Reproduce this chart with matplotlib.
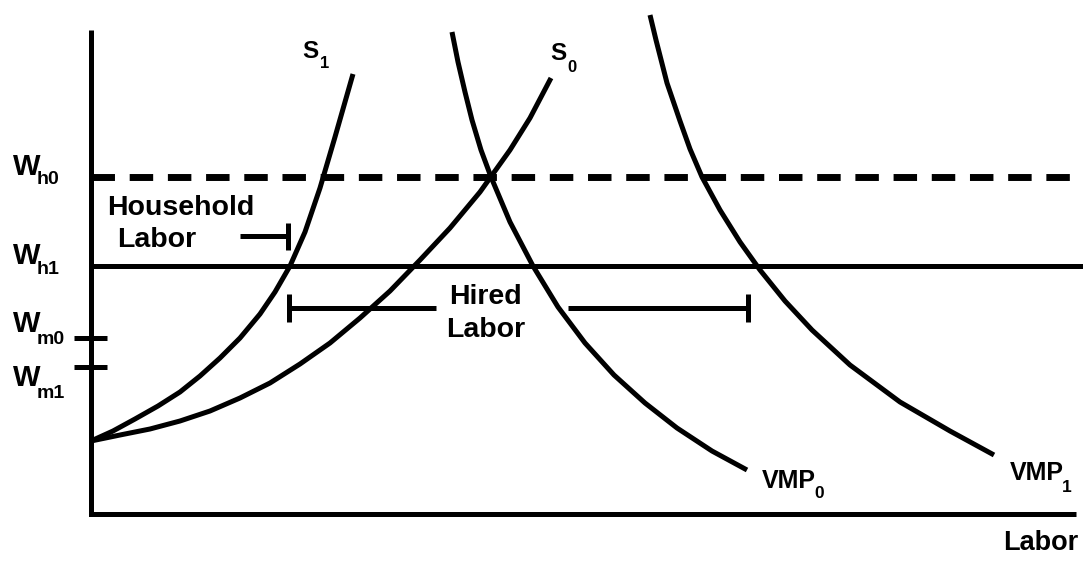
# Farm labour market: supply (S0, S1) and value of marginal product (VMP0, VMP1)
import matplotlib.pyplot as plt

plt.rcParams['font.family'] = ['Liberation Sans', 'DejaVu Sans']

# curves: labor on x, wage on y
s1_labor = [0, 2.2, 4.4, 6.7, 8.9, 10.9, 12.9, 14.9, 16.9, 18.4, 19.9, 21.4, 22.9, 24.4, 26.2]
s1_wage = [7.3, 8.3, 9.5, 10.8, 12.2, 13.8, 15.6, 17.6, 20.0, 22.2, 24.8, 28.2, 32.6, 37.7, 44.0]

s0_labor = [0, 2.9, 5.9, 8.9, 11.9, 14.9, 17.9, 20.9, 23.9, 26.9, 29.9, 32.9, 35.9,
            38.9, 41.9, 43.9, 46.0]
s0_wage = [7.3, 7.9, 8.5, 9.3, 10.3, 11.6, 13.1, 15.0, 17.1, 19.6, 22.3, 25.4, 28.6,
           32.2, 36.4, 39.6, 43.6]

vmp0_labor = [36.1, 36.7, 37.4, 38.1, 39.0, 40.0, 41.9, 44.2, 46.7, 49.4, 52.3, 55.4,
              58.6, 62.1, 65.6]
vmp0_wage = [48.2, 45.2, 42.2, 39.4, 36.4, 33.7, 29.2, 24.8, 20.7, 17.1, 13.9, 11.1,
             8.6, 6.3, 4.4]

vmp1_labor = [55.9, 56.5, 57.6, 58.9, 59.9, 61.1, 62.9, 64.9, 66.9, 69.4, 72.1, 75.9,
              80.9, 85.9, 90.3]
vmp1_wage = [49.9, 47.4, 43.1, 39.3, 36.5, 33.7, 30.4, 27.2, 24.4, 21.3, 18.4, 14.9,
             11.2, 8.3, 5.9]

# wage levels
w_h0 = 33.7
w_h1 = 24.8
w_m0 = 17.6
w_m1 = 14.7

# bracket bars
household_bar = [14.9, 19.7]
household_y = 27.8
hired_left = [19.8, 34.5]
hired_right = [47.7, 65.7]
hired_y = 20.6

fig = plt.figure(figsize=(10.83, 5.61), dpi=100)
ax = fig.add_axes([0, 0, 1, 1])
ax.set_xlim(-9.1, 99.2)
ax.set_ylim(-4.7, 51.4)
ax.axis('off')

lw = 3.6
kw = dict(color='black', lw=lw, solid_capstyle='butt', solid_joinstyle='round')

# axes
ax.plot([0, 0, 98.5], [48.4, 0, 0], color='black', lw=lw,
        solid_capstyle='butt', solid_joinstyle='miter')

# wage lines
ax.plot([0, 99.2], [w_h0, w_h0], color='black', lw=5,
        linestyle=(0, (3.38, 2.12)), dash_capstyle='butt')
ax.plot([0, 99.2], [w_h1, w_h1], **kw)
for w in (w_m0, w_m1):
    ax.plot([-1.7, 1.6], [w, w], **kw)

# curves
ax.plot(s1_labor, s1_wage, **kw)
ax.plot(s0_labor, s0_wage, **kw)
ax.plot(vmp0_labor, vmp0_wage, **kw)
ax.plot(vmp1_labor, vmp1_wage, **kw)

# brackets
ax.plot(household_bar, [household_y] * 2, **kw)
ax.plot([household_bar[1]] * 2, [household_y - 1.35, household_y + 1.35], **kw)
ax.plot(hired_left, [hired_y] * 2, **kw)
ax.plot(hired_right, [hired_y] * 2, **kw)
ax.plot([hired_left[0]] * 2, [hired_y - 1.4, hired_y + 1.4], **kw)
ax.plot([hired_right[1]] * 2, [hired_y - 1.4, hired_y + 1.4], **kw)


def label(x, y, s, size, ha='left'):
    ax.text(x, y, s, fontsize=size, fontweight='bold', ha=ha, va='baseline')


# wage labels on the axis
for main_y, sub_y, sub in [(33.9, 33.0, 'h0'), (25.0, 24.0, 'h1'),
                           (18.2, 17.0, 'm0'), (12.8, 11.6, 'm1')]:
    label(-6.45, main_y, 'W', 21, ha='center')
    label(-5.4, sub_y, sub, 14)

# curve labels
label(21.1, 45.6, 'S', 17.5)
label(22.9, 44.6, '1', 12)
label(45.9, 45.4, 'S', 17.5)
label(47.6, 44.2, '0', 12)
label(67.1, 2.6, 'VMP', 18)
label(72.3, 1.6, '0', 12.5)
label(91.9, 3.4, 'VMP', 18)
label(97.1, 2.2, '1', 12.5)

label(1.6, 29.9, 'Household', 20.5)
label(2.6, 26.7, 'Labor', 20.5)
label(39.4, 21.0, 'Hired', 20.5, ha='center')
label(39.5, 17.7, 'Labor', 20.5, ha='center')

label(98.7, -3.6, 'Labor', 19.5, ha='right')

fig.savefig('out.png', dpi=100)
